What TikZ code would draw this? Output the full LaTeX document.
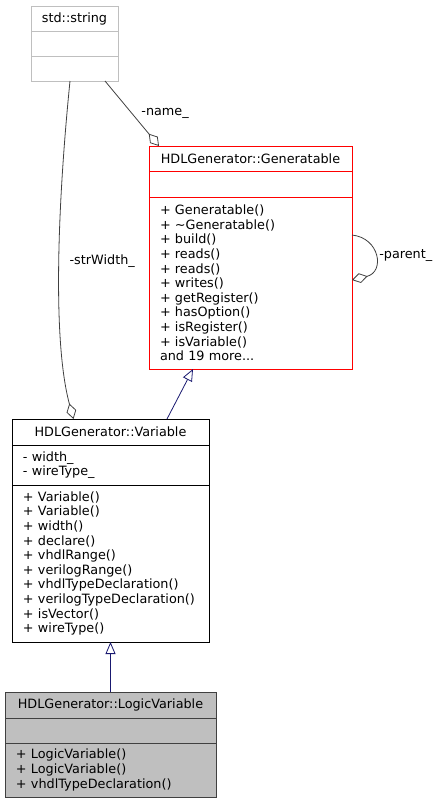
\documentclass[tikz,border=0pt]{standalone}
\usepackage{fontspec}
\setmainfont{DejaVu Sans}
\usepackage{tikz}
\usetikzlibrary{arrows.meta, positioning}
\definecolor{edgegray}{HTML}{404040}
\definecolor{grey75}{HTML}{BFBFBF}
\definecolor{inheritblue}{HTML}{191970}
\newcommand{\umlfont}{\fontsize{12.8pt}{14.6pt}\selectfont}

\begin{document}
\begin{tikzpicture}[x=1pt, y=-1pt]
        \tikzstyle{cls} = [rectangle, draw=black, line width=1pt, outer sep=0pt, inner xsep=11pt, inner ysep=2pt, font=\umlfont, align=left]
        \tikzstyle{clsname} = [align=center]
        \tikzstyle{external} = [draw=grey75, inner xsep=5pt, text width=77pt, minimum height=25pt]
        \tikzstyle{documented} = [draw=red]
        \tikzstyle{focus} = [draw=edgegray, fill=grey75]
        \tikzstyle{assoc} = [draw=edgegray, line width=0.8pt, -{Diamond[open, length=16pt, width=10pt]}]
        \tikzstyle{generalize} = [draw=inheritblue, line width=0.8pt, -{Triangle[open, length=12pt, width=10pt]}]
        \tikzstyle{role} = [font=\umlfont, inner sep=1pt]

        \useasboundingbox (0,0) rectangle (440,804);

        % std::string
        \node (str) [cls, external, clsname, anchor=north west] at (31,6) {std::string};
        \node (str-attr) [cls, external, below=0pt of str] {};
        \node (str-ops) [cls, external, below=0pt of str-attr] {};

        % Generatable
        \node (gen) [cls, documented, clsname, text width=181pt, minimum height=25pt, anchor=north west] at (149,146) {HDLGenerator::Generatable};
        \node (gen-attr) [cls, documented, text width=181pt, minimum height=26pt, below=0pt of gen] {};
        \node (gen-ops) [cls, documented, text width=181pt, minimum height=172pt, below=0pt of gen-attr] {+ Generatable()\\+ \textasciitilde Generatable()\\+ build()\\+ reads()\\+ reads()\\+ writes()\\+ getRegister()\\+ hasOption()\\+ isRegister()\\+ isVariable()\\and 19 more...};

        % Variable
        \node (var) [cls, clsname, text width=175pt, minimum height=26pt, anchor=north west] at (12,419) {HDLGenerator::Variable};
        \node (var-attr) [cls, text width=175pt, minimum height=40pt, below=0pt of var] {- width\_\\- wireType\_};
        \node (var-ops) [cls, text width=175pt, minimum height=157pt, below=0pt of var-attr] {+ Variable()\\+ Variable()\\+ width()\\+ declare()\\+ vhdlRange()\\+ verilogRange()\\+ vhdlTypeDeclaration()\\+ verilogTypeDeclaration()\\+ isVector()\\+ wireType()};

        % LogicVariable
        \node (logic) [cls, focus, clsname, text width=189pt, minimum height=26pt, anchor=north west] at (5,692) {HDLGenerator::LogicVariable};
        \node (logic-attr) [cls, focus, text width=189pt, minimum height=25pt, below=0pt of logic] {};
        \node (logic-ops) [cls, focus, text width=189pt, minimum height=54pt, below=0pt of logic-attr] {+ LogicVariable()\\+ LogicVariable()\\+ vhdlTypeDeclaration()};

        % Members
        \draw [assoc] ([xshift=-4.5pt]str-ops.south) .. controls (58,200) and (52,340) .. ([xshift=-37pt]var.north)
            node [role, pos=0.49, right=9pt] {-strWidth\_};
        \draw [assoc] ([xshift=-13pt]str-ops.south east) -- ([xshift=10pt]gen.north west)
            node [role, midway, right=8pt] {-name\_};
        \draw [assoc] ([yshift=48pt]gen-ops.east) .. controls +(28,3) and +(33,-8) .. ([yshift=3pt]gen-ops.east)
            node [role, pos=0.5, right=3pt] {-parent\_};

        % Inheritance
        \draw [generalize] ([xshift=-42pt]var.north east) -- ([xshift=44pt]gen-ops.south west);
        \draw [generalize] (logic) -- (var-ops);
\end{tikzpicture}
\end{document}
